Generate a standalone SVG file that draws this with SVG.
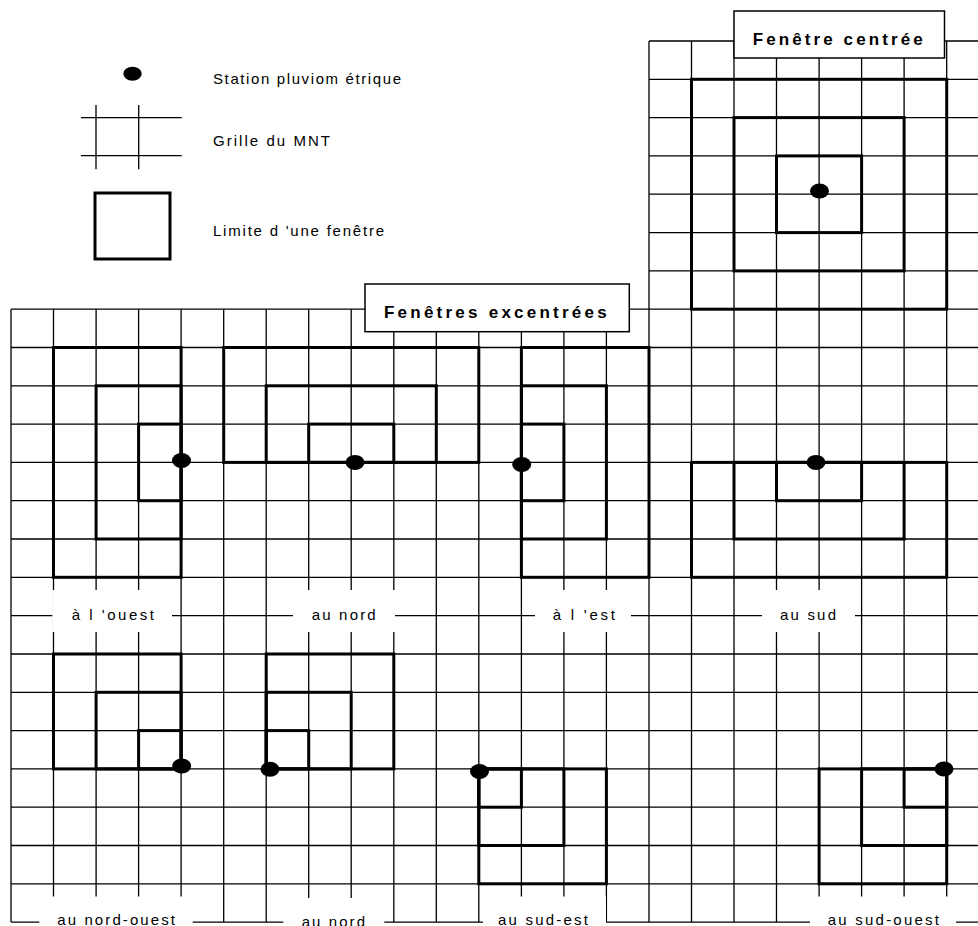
<svg xmlns="http://www.w3.org/2000/svg" width="978" height="926" viewBox="0 0 978 926">
<style>
.g{stroke:#000;stroke-width:1.3;fill:none}
.w{stroke:#000;stroke-width:3;fill:none}
.dot{fill:#000}
.wb{fill:#fff;stroke:none}
.tb{fill:#fff;stroke:#000;stroke-width:1.5}
.lbl{font-family:"Liberation Sans",Arial,sans-serif;font-size:15px;fill:#000}
.ttl{font-family:"Liberation Sans",Arial,sans-serif;font-size:17px;font-weight:bold;fill:#000}
</style>
<rect width="978" height="926" fill="#fff"/>
<g id="grid">
<path class="g" d="M649 41H978M649 79.3H978M649 117.6H978M649 155.9H978M649 194.2H978M649 232.6H978M649 270.9H978
M11 309.2H978M11 347.5H978M11 385.8H978M11 424.1H978M11 462.4H978M11 500.7H978M11 539H978M11 577.3H978
M11 615.7H978M11 654H978M11 692.3H978M11 730.6H978M11 768.9H978M11 807.2H978M11 845.5H978M11 883.8H978M11 922.1H978"/>
<path class="g" d="M11 309.2V922.1M53.5 309.2V922.1M96.1 309.2V922.1M138.6 309.2V922.1M181.1 309.2V922.1M223.7 309.2V922.1
M266.2 309.2V922.1M308.7 309.2V922.1M351.2 309.2V922.1M393.8 309.2V922.1M436.3 309.2V922.1M478.8 309.2V922.1
M521.4 309.2V922.1M563.9 309.2V922.1M606.4 309.2V922.1
M649 41V922.1M691.5 41V922.1M734 41V922.1M776.5 41V922.1M819.1 41V922.1M861.6 41V922.1M904.1 41V922.1M946.7 41V922.1"/>
</g>
<g id="label-masks">
<rect class="wb" x="52.3" y="590" width="119.7" height="42"/>
<rect class="wb" x="293" y="590" width="102" height="42"/>
<rect class="wb" x="535" y="590" width="96" height="42"/>
<rect class="wb" x="762" y="590" width="93" height="42"/>
<rect class="wb" x="39.3" y="896.5" width="153.4" height="30"/>
<rect class="wb" x="283.3" y="898" width="101" height="30"/>
<rect class="wb" x="483" y="896.5" width="123" height="30"/>
<rect class="wb" x="810" y="896.5" width="146" height="30"/>
</g>
<g id="legend">
<ellipse class="dot" cx="132.5" cy="73.7" rx="9.2" ry="7"/>
<text class="lbl" x="213" y="84" textLength="188" lengthAdjust="spacing">Station pluviom étrique</text>
<path class="g" d="M81 117.7H181.7M81 155.7H181.7M96 105V169.3M138.7 105V169.3"/>
<text class="lbl" x="213" y="145.5" textLength="117" lengthAdjust="spacing">Grille du MNT</text>
<rect class="w" x="95" y="193" width="75" height="66"/>
<text class="lbl" x="213" y="235.5" textLength="171" lengthAdjust="spacing">Limite d 'une fenêtre</text>
</g>
<g id="centree">
<rect class="tb" x="734" y="11" width="210.5" height="47"/>
<text class="ttl" x="752.7" y="45" textLength="170" lengthAdjust="spacing">Fenêtre centrée</text>
<rect class="w" x="691.5" y="79.3" width="255.2" height="229.9"/>
<rect class="w" x="734" y="117.6" width="170.1" height="153.3"/>
<rect class="w" x="776.5" y="155.9" width="85.1" height="76.7"/>
<ellipse class="dot" cx="819.5" cy="191" rx="9.5" ry="7.5"/>
</g>
<g id="excentrees-title">
<rect class="tb" x="365" y="284" width="264.3" height="47.7"/>
<text class="ttl" x="384" y="317.7" textLength="222.7" lengthAdjust="spacing">Fenêtres excentrées</text>
</g>
<g id="ouest">
<rect class="w" x="53.5" y="347.5" width="127.6" height="229.8"/>
<rect class="w" x="96.1" y="385.8" width="85" height="153.2"/>
<rect class="w" x="138.6" y="424.1" width="42.5" height="76.6"/>
<ellipse class="dot" cx="181.5" cy="460.5" rx="9.5" ry="7.5"/>
<text class="lbl" x="71.7" y="619.5" textLength="82.3" lengthAdjust="spacing">à  l 'ouest</text>
</g>
<g id="nord">
<rect class="w" x="223.7" y="347.5" width="255.1" height="114.9"/>
<rect class="w" x="266.2" y="385.8" width="170.1" height="76.6"/>
<rect class="w" x="308.7" y="424.1" width="85.1" height="38.3"/>
<ellipse class="dot" cx="355" cy="462.4" rx="9.5" ry="7.5"/>
<text class="lbl" x="311.7" y="619.5" textLength="64" lengthAdjust="spacing">au nord</text>
</g>
<g id="est">
<rect class="w" x="521.4" y="347.5" width="127.6" height="229.8"/>
<rect class="w" x="521.4" y="385.8" width="85" height="153.2"/>
<rect class="w" x="521.4" y="424.1" width="42.5" height="76.6"/>
<ellipse class="dot" cx="521.7" cy="464.5" rx="9.5" ry="7.5"/>
<text class="lbl" x="552.7" y="619.5" textLength="62.3" lengthAdjust="spacing">à  l 'est</text>
</g>
<g id="sud">
<rect class="w" x="691.5" y="462.4" width="255.2" height="114.9"/>
<rect class="w" x="734" y="462.4" width="170.1" height="76.6"/>
<rect class="w" x="776.5" y="462.4" width="85.1" height="38.3"/>
<ellipse class="dot" cx="816" cy="462.4" rx="9.5" ry="7.5"/>
<text class="lbl" x="780" y="619.5" textLength="56" lengthAdjust="spacing">au sud</text>
</g>
<g id="nord-ouest">
<rect class="w" x="53.5" y="654" width="127.6" height="114.9"/>
<rect class="w" x="96.1" y="692.3" width="85" height="76.6"/>
<rect class="w" x="138.6" y="730.6" width="42.5" height="38.3"/>
<ellipse class="dot" cx="181.7" cy="766" rx="9.5" ry="7.5"/>
<text class="lbl" x="57.3" y="924.5" textLength="117.7" lengthAdjust="spacing">au nord-ouest</text>
</g>
<g id="nord-2">
<rect class="w" x="266.2" y="654" width="127.6" height="114.9"/>
<rect class="w" x="266.2" y="692.3" width="85" height="76.6"/>
<rect class="w" x="266.2" y="730.6" width="42.5" height="38.3"/>
<ellipse class="dot" cx="270" cy="769.3" rx="9.5" ry="7.5"/>
<text class="lbl" x="301.7" y="926.5" textLength="63.3" lengthAdjust="spacing">au nord</text>
</g>
<g id="sud-est">
<rect class="w" x="478.8" y="768.9" width="127.6" height="114.9"/>
<rect class="w" x="478.8" y="768.9" width="85.1" height="76.6"/>
<rect class="w" x="478.8" y="768.9" width="42.6" height="38.3"/>
<ellipse class="dot" cx="479.5" cy="771.5" rx="9.5" ry="7.5"/>
<text class="lbl" x="498" y="924.5" textLength="90" lengthAdjust="spacing">au sud-est</text>
</g>
<g id="sud-ouest">
<rect class="w" x="819.1" y="768.9" width="127.6" height="114.9"/>
<rect class="w" x="861.6" y="768.9" width="85.1" height="76.6"/>
<rect class="w" x="904.1" y="768.9" width="42.6" height="38.3"/>
<ellipse class="dot" cx="944" cy="769" rx="9.5" ry="7.5"/>
<text class="lbl" x="827.7" y="924.5" textLength="111.3" lengthAdjust="spacing">au sud-ouest</text>
</g>
<g id="connectors"/>
</svg>
